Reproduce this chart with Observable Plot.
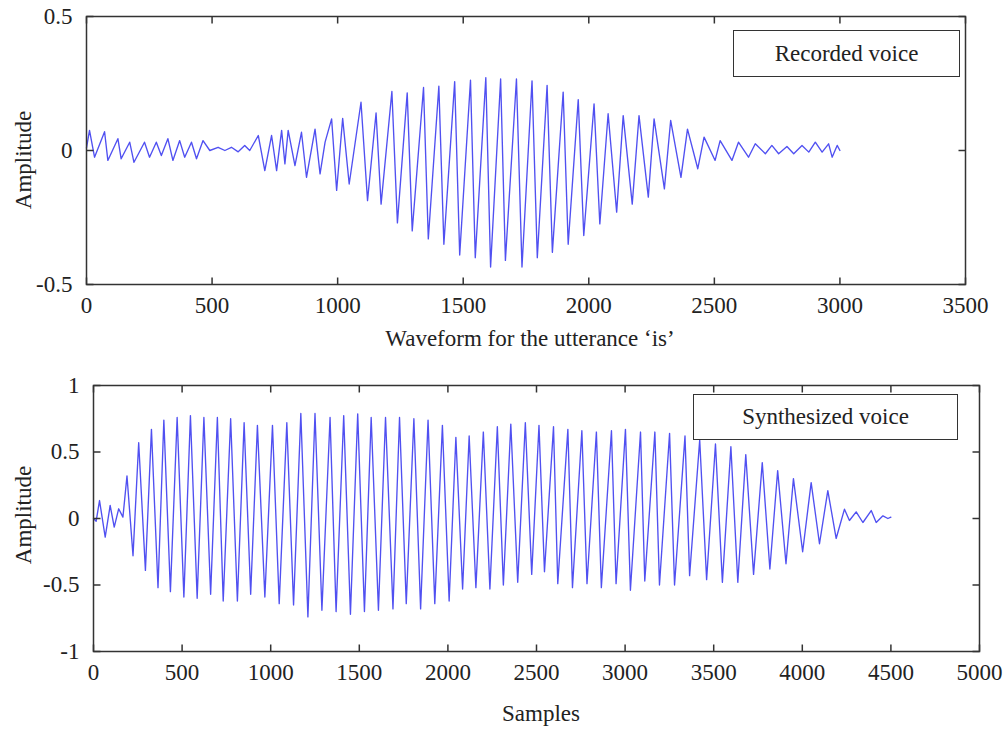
<!DOCTYPE html>
<html>
<head>
<meta charset="utf-8">
<script src="https://cdn.jsdelivr.net/npm/d3@7"></script>
<script src="https://cdn.jsdelivr.net/npm/@observablehq/plot@0.6"></script>
<style>
  html, body { margin: 0; padding: 0; background: #fff; }
  #root { position: relative; width: 1007px; height: 731px; font-family: "Liberation Serif", "DejaVu Serif", serif; color: #222; }
  #root svg, #root svg text { font-family: "Liberation Serif", "DejaVu Serif", serif !important; }
  .panel { position: absolute; left: 0; }
  .xlabel { position: absolute; font-size: 23px; white-space: nowrap; transform: translate(-50%, -50%); }
  .ylabel { position: absolute; font-size: 23px; white-space: nowrap; transform: translate(-50%, -50%) rotate(-90deg); }
  .legend { position: absolute; box-sizing: border-box; border: 1.5px solid #333; background: #fff;
            font-size: 23px; display: flex; align-items: center; justify-content: center; }
</style>
</head>
<body>
<div id="root"></div>
<script>
// ---------- Data ----------
// Recorded voice: alternating local extrema (sample index, amplitude)
const recSamples = [0, 12, 32, 72, 85, 125, 138, 172, 189, 231, 251, 278, 298, 324, 344, 371, 391, 418, 438, 464, 491,
  524, 551, 577, 604, 630, 650, 684, 710, 737, 757, 777, 790, 803, 830, 856, 876, 910, 930, 950, 976, 996,
  1020, 1046, 1093, 1119, 1153, 1173, 1216, 1238, 1277, 1297, 1342, 1361, 1403, 1423, 1466, 1486, 1529, 1548,
  1590, 1609, 1649, 1668, 1712, 1734, 1774, 1795, 1834, 1855, 1898, 1918, 1958, 1980, 2021, 2044, 2077, 2111,
  2137, 2173, 2200, 2237, 2260, 2301, 2326, 2367, 2393, 2434, 2459, 2503, 2523, 2570, 2596, 2636, 2663, 2703,
  2729, 2756, 2789, 2816, 2849, 2876, 2902, 2929, 2955, 2969, 2989, 3000];
const recAmp = [0.01, 0.075, -0.025, 0.07, -0.037, 0.044, -0.031, 0.031, -0.044, 0.031, -0.025, 0.031, -0.019, 0.044, -0.037, 0.037, -0.025, 0.031, -0.031, 0.037, 0.0,
  0.012, 0.0, 0.012, -0.005, 0.019, 0.0, 0.056, -0.075, 0.056, -0.075, 0.075, -0.05, 0.075, -0.056, 0.068, -0.1, 0.08, -0.087, 0.031, 0.118, -0.149,
  0.12, -0.125, 0.18, -0.187, 0.14, -0.2, 0.22, -0.27, 0.215, -0.30, 0.235, -0.33, 0.24, -0.35, 0.257, -0.39, 0.262, -0.40,
  0.272, -0.435, 0.267, -0.41, 0.267, -0.435, 0.26, -0.40, 0.243, -0.38, 0.218, -0.35, 0.19, -0.317, 0.174, -0.274, 0.137, -0.23,
  0.13, -0.2, 0.13, -0.174, 0.118, -0.143, 0.112, -0.10, 0.08, -0.068, 0.05, -0.037, 0.037, -0.037, 0.031, -0.025, 0.025, -0.012,
  0.019, -0.012, 0.015, -0.012, 0.019, -0.006, 0.031, -0.006, 0.025, -0.025, 0.019, 0.0];

// Synthesized voice: alternating local extrema (sample index, amplitude)
const synSamples = [0, 15, 34, 66, 94, 117, 142, 166, 189, 223, 255, 293, 327, 364, 397, 434, 472, 510, 547, 585, 623, 661,
  699, 732, 774, 812, 850, 887, 925, 967, 1010, 1048, 1091, 1129, 1170, 1210, 1250, 1289, 1335, 1369, 1412, 1450,
  1491, 1529, 1567, 1608, 1648, 1690, 1727, 1765, 1808, 1846, 1888, 1926, 1969, 2007, 2045, 2083, 2120, 2158,
  2200, 2237, 2279, 2313, 2355, 2394, 2437, 2473, 2514, 2545, 2596, 2620, 2677, 2703, 2756, 2785, 2838, 2866,
  2923, 2949, 3002, 3030, 3087, 3111, 3168, 3194, 3251, 3279, 3338, 3364, 3421, 3460, 3510, 3549, 3597, 3636,
  3681, 3725, 3774, 3817, 3861, 3908, 3950, 4002, 4050, 4097, 4144, 4191, 4238, 4266, 4304, 4342, 4389, 4417,
  4455, 4483, 4500];
const synAmp = [0, -0.02, 0.135, -0.14, 0.098, -0.065, 0.073, 0.01, 0.32, -0.28, 0.57, -0.39, 0.67, -0.52, 0.74, -0.55, 0.76, -0.59, 0.774, -0.60, 0.76, -0.57,
  0.76, -0.62, 0.75, -0.62, 0.72, -0.57, 0.70, -0.59, 0.70, -0.64, 0.72, -0.65, 0.79, -0.74, 0.79, -0.69, 0.76, -0.70, 0.774, -0.72,
  0.787, -0.70, 0.76, -0.69, 0.76, -0.68, 0.76, -0.64, 0.75, -0.68, 0.74, -0.64, 0.70, -0.62, 0.61, -0.53, 0.62, -0.52,
  0.65, -0.53, 0.69, -0.50, 0.71, -0.48, 0.72, -0.42, 0.70, -0.40, 0.69, -0.49, 0.67, -0.52, 0.66, -0.49, 0.65, -0.52,
  0.66, -0.49, 0.67, -0.54, 0.65, -0.47, 0.65, -0.50, 0.64, -0.50, 0.62, -0.43, 0.59, -0.46, 0.56, -0.48, 0.54, -0.48,
  0.48, -0.42, 0.42, -0.38, 0.36, -0.34, 0.30, -0.25, 0.27, -0.19, 0.21, -0.15, 0.07, -0.015, 0.05, -0.03, 0.06, -0.03,
  0.02, 0.0, 0.01];

const topXTicks = [0, 500, 1000, 1500, 2000, 2500, 3000, 3500];
const topYTicks = [-0.5, 0, 0.5];
const botXTicks = [0, 500, 1000, 1500, 2000, 2500, 3000, 3500, 4000, 4500, 5000];
const botYTicks = [-1, -0.5, 0, 0.5, 1];

const topXLabel = "Waveform for the utterance \u2018is\u2019";
const botXLabel = "Samples";
const yLabel = "Amplitude";
const topLegend = "Recorded voice";
const botLegend = "Synthesized voice";

// ---------- Drawing ----------
const lineColor = "#3d3df0";
const axisColor = "#333";
const fmt = d => String(d);
const TICK = 7; // inward tick length in px

function panel({samples, amp, xDomain, yDomain, xTicks, yTicks, marginLeft, marginRight, marginTop, frameBottom, height}) {
  const data = samples.map((s, i) => ({s, a: amp[i]}));
  const width = 1007;
  const fw = width - marginLeft - marginRight;
  const fh = frameBottom - marginTop;
  const [x0, x1] = xDomain, [y0, y1] = yDomain;
  const dxT = (x1 - x0) * TICK / fw;   // tick length in x units
  const dyT = (y1 - y0) * TICK / fh;   // tick length in y units
  const xTickRows = xTicks.flatMap(v => [{v, a: y0, b: y0 + dyT}, {v, a: y1, b: y1 - dyT}]);
  const yTickRows = yTicks.flatMap(v => [{v, a: x0, b: x0 + dxT}, {v, a: x1, b: x1 - dxT}]);
  return Plot.plot({
    width,
    height,
    marginLeft, marginRight, marginTop,
    marginBottom: height - frameBottom,
    style: {fontFamily: "\"Liberation Serif\", serif", fontSize: "23px", color: "#222", background: "transparent", overflow: "visible"},
    x: {domain: xDomain},
    y: {domain: yDomain},
    marks: [
      Plot.line(data, {x: "s", y: "a", stroke: lineColor, strokeWidth: 1.35, strokeOpacity: 0.9}),
      // inward ticks on all four sides (MATLAB-style box)
      Plot.link(xTickRows, {x1: "v", x2: "v", y1: "a", y2: "b", stroke: axisColor, strokeWidth: 1.5}),
      Plot.link(yTickRows, {y1: "v", y2: "v", x1: "a", x2: "b", stroke: axisColor, strokeWidth: 1.5}),
      Plot.frame({stroke: axisColor, strokeWidth: 1.5}),
      Plot.axisX(xTicks, {anchor: "bottom", tickSize: 0, tickPadding: 12, tickFormat: fmt, fill: "#222", label: null}),
      Plot.axisY(yTicks, {anchor: "left", tickSize: 0, tickPadding: 14, tickFormat: fmt, fill: "#222", label: null})
    ]
  });
}

const root = document.getElementById("root");

const top1 = panel({samples: recSamples, amp: recAmp, xDomain: [0, 3500], yDomain: [-0.5, 0.5],
  xTicks: topXTicks, yTicks: topYTicks, marginLeft: 86, marginRight: 42, marginTop: 16, frameBottom: 284, height: 330});
top1.classList.add("panel");
top1.style.top = "0px";
root.appendChild(top1);

const bot = panel({samples: synSamples, amp: synAmp, xDomain: [0, 5000], yDomain: [-1, 1],
  xTicks: botXTicks, yTicks: botYTicks, marginLeft: 93, marginRight: 28, marginTop: 15, frameBottom: 281, height: 330});
bot.classList.add("panel");
bot.style.top = "370px";
root.appendChild(bot);

function addDiv(cls, text, css) {
  const d = document.createElement("div");
  d.className = cls;
  d.textContent = text;
  Object.assign(d.style, css);
  root.appendChild(d);
}
addDiv("xlabel", topXLabel, {left: "530px", top: "339px"});
addDiv("xlabel", botXLabel, {left: "541px", top: "714px"});
addDiv("ylabel", yLabel, {left: "24px", top: "160px"});
addDiv("ylabel", yLabel, {left: "24px", top: "515px"});
addDiv("legend", topLegend, {left: "733px", top: "30px", width: "227px", height: "47px"});
addDiv("legend", botLegend, {left: "693px", top: "394px", width: "265px", height: "46px"});
</script>
</body>
</html>
